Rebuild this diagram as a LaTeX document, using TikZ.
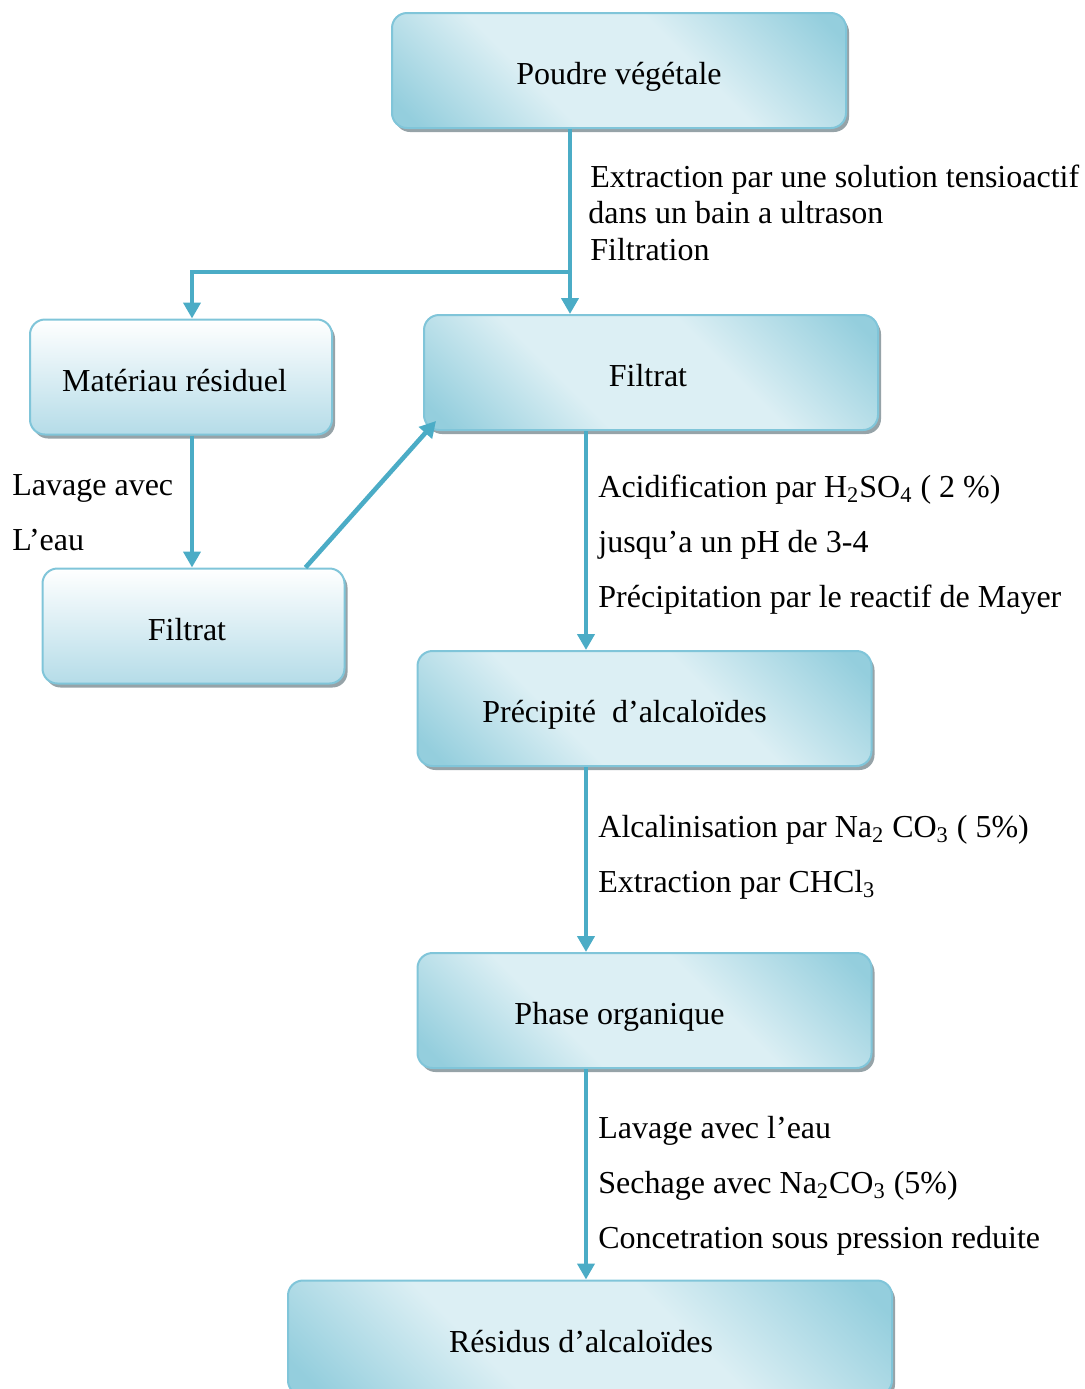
\documentclass[tikz,border=0pt]{standalone}
\usepackage{fontspec}
\setmainfont{Liberation Serif}
\usepackage{tikz}
\usetikzlibrary{arrows.meta,calc,shadows}

\definecolor{flowblue}{RGB}{75,172,198}
\definecolor{boxline}{RGB}{128,197,217}
\definecolor{boxdark}{RGB}{148,206,221}
\definecolor{boxlight}{RGB}{220,239,244}
\definecolor{sidedark}{RGB}{181,220,232}
\definecolor{shadowgrey}{RGB}{150,163,168}

% soft diagonal glow of the main boxes
\pgfdeclareverticalshading{boxglow}{100bp}{color(0bp)=(boxdark); color(18bp)=(boxdark);
  color(38bp)=(boxlight); color(60bp)=(boxlight); color(82bp)=(boxdark); color(100bp)=(boxdark)}

\begin{document}
\begin{tikzpicture}[x=0.5pt, y=-0.5pt, >={Triangle[width=8.5pt,length=8pt]},
  font=\fontsize{16}{19}\selectfont,
  box/.style={draw=boxline, line width=1pt, rounded corners=7.5pt,
    minimum width=227pt, minimum height=57.5pt, inner sep=0pt,
    text height=14pt, text depth=0pt,
    shade, shading=boxglow, shading angle=-45,
    drop shadow={shadow xshift=1.5pt, shadow yshift=-2pt, fill=shadowgrey, opacity=1}},
  sidebox/.style={box, minimum width=151pt, top color=white, bottom color=sidedark,
    middle color=sidedark!50!white, shading angle=0},
  flow/.style={draw=flowblue, line width=2.3pt, ->},
  note/.style={anchor=base west, inner sep=0pt}]
  \useasboundingbox (0,0) rectangle (1085,1389);

  % boxes
  \node[box] (poudre) at (619,70.5) {Poudre végétale};
  \node[sidebox] (materiau) at (181,377) {Matériau résiduel\hspace*{6.5pt}};
  \node[box] (filtratA) at (651,372.5) {Filtrat\hspace*{3pt}};
  \node[sidebox] (filtratB) at (193.5,626) {Filtrat\hspace*{6.5pt}};
  \node[box] (precipite) at (644.5,708.5) {Précipité\ \ d’alcaloïdes\hspace*{20pt}};
  \node[box] (phase) at (644.5,1010.5) {Phase organique\hspace*{25pt}};
  \node[box, minimum width=302pt] (residus) at (590,1338) {Résidus d’alcaloïdes\hspace*{9pt}};

  % connectors
  \coordinate (trunk) at (570,272);
  \coordinate (branch) at (192,272);
  \coordinate (spine) at (586,0);
  \draw[flow] (trunk |- poudre.south) -- (trunk |- filtratA.north);
  \draw[flow] (trunk) -| (branch |- materiau.north);
  \draw[flow] (branch |- materiau.south) -- (branch |- filtratB.north);
  \draw[flow] ([xshift=-20pt]filtratB.north east) -- ([shift={(6.5pt,5pt)}]filtratA.south west);
  \draw[flow] (spine |- filtratA.south) -- (spine |- precipite.north);
  \draw[flow] (spine |- precipite.south) -- (spine |- phase.north);
  \draw[flow] (spine |- phase.south) -- (spine |- residus.north);

  % step labels
  \node[note] (ext1) at (590,187) {Extraction par une solution tensioactif};
  \node[note] (ext2) at (588,223) {dans un bain a ultrason};
  \node[note] (ext3) at (590,260) {Filtration};
  \node[note] (lav1) at (12,495) {Lavage avec};
  \node[note] (lav2) at (12,550) {L’eau};
  \node[note] (acid1) at (598,497) {Acidification par H\textsubscript{2}SO\textsubscript{4} ( 2 \%)};
  \node[note] (acid2) at (598,552) {jusqu’a un pH de 3-4};
  \node[note] (acid3) at (598,607) {Précipitation par le reactif de Mayer};
  \node[note] (alc1) at (598,837) {Alcalinisation par Na\textsubscript{2} CO\textsubscript{3} ( 5\%)};
  \node[note] (alc2) at (598,892) {Extraction par CHCl\textsubscript{3}};
  \node[note] (sech1) at (598,1138) {Lavage avec l’eau};
  \node[note] (sech2) at (598,1193) {Sechage avec Na\textsubscript{2}CO\textsubscript{3} (5\%)};
  \node[note] (sech3) at (598,1248) {Concetration sous pression reduite};
\end{tikzpicture}
\end{document}
